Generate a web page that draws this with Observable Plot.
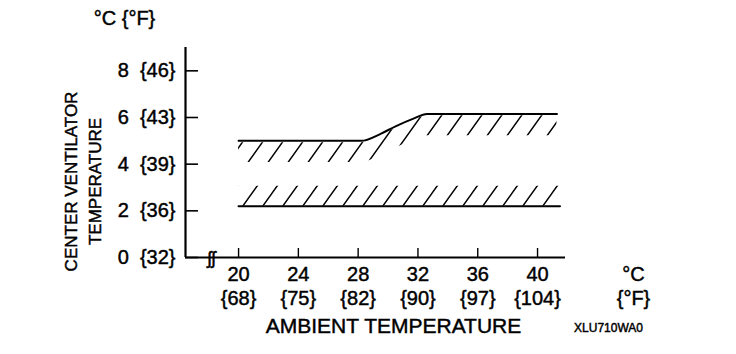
<!DOCTYPE html>
<html>
<head>
<meta charset="utf-8">
<script src="https://cdn.jsdelivr.net/npm/d3@7"></script>
<script src="https://cdn.jsdelivr.net/npm/@observablehq/plot@0.6"></script>
<style>
  html, body { margin: 0; padding: 0; background: #fff; }
  #chart svg { display: block; }
  #chart text { stroke: #000; stroke-width: 0.45px; }
</style>
</head>
<body>
<div id="chart"></div>
<script>
// Ambient temperature ticks (°C) and Fahrenheit equivalents
const xTicks = [20, 24, 28, 32, 36, 40];
const xTicksF = [68, 75, 82, 90, 97, 104];
// Center ventilator temperature ticks (°C) and Fahrenheit equivalents
const yTicks = [0, 2, 4, 6, 8];
const yTicksF = [32, 36, 39, 43, 46];

// Upper limit of the specification band
const upperX = [20, 28.2, 29.5, 30.5, 31.7, 32.6, 41.3];
const upperY = [5.0, 5.0, 5.3, 5.62, 5.95, 6.15, 6.15];
// Lower limit of the specification band
const lowerX = [20, 41.5];
const lowerY = [2.2, 2.2];

const hatchDepth = 0.85;

const xDomain = [16.45, 41.87];
const yDomain = [0, 9];

const upper = upperX.map((x, i) => ({x, y: upperY[i]}));
const lower = lowerX.map((x, i) => ({x, y: lowerY[i]}));

const font = "'Liberation Sans', Arial, Helvetica, sans-serif";

const chart = Plot.plot({
  width: 736,
  height: 354,
  marginLeft: 185,
  marginRight: 171,
  marginTop: 47,
  marginBottom: 97,
  style: {fontFamily: font, fontSize: "20px", color: "#000", background: "#fff"},
  x: {domain: xDomain},
  y: {domain: yDomain},
  marks: [
    // hatched strips
    Plot.areaY(upper, {x: "x", y1: d => d.y - 0.08, y2: d => d.y - hatchDepth - 0.08, curve: "monotone-x", fill: "url(#hatchU)"}),
    Plot.areaY(lower, {x: "x", y1: d => d.y, y2: d => d.y + hatchDepth, fill: "url(#hatchL)"}),
    // limit lines
    Plot.line(upper, {x: "x", y: "y", curve: "monotone-x", stroke: "#000", strokeWidth: 2}),
    Plot.line(lower, {x: "x", y: "y", stroke: "#000", strokeWidth: 2}),
    // axes lines
    Plot.ruleX([xDomain[0]], {y1: yDomain[0], y2: yDomain[1], stroke: "#000", strokeWidth: 2.2}),
    Plot.ruleY([0], {x1: xDomain[0], x2: xDomain[1], stroke: "#000", strokeWidth: 1.8}),
    // axes
    Plot.axisY({ticks: yTicks, tickSize: -13, tickPadding: 23, strokeWidth: 1.6, label: null,
      fontSize: 20, tickFormat: d => `${d}\u2007{${yTicksF[yTicks.indexOf(d)]}}`}),
    Plot.axisX({ticks: xTicks, tickSize: -9, tickPadding: 15, strokeWidth: 1.4, label: null,
      fontSize: 20, lineHeight: 1.2, tickFormat: d => `${d}\n{${xTicksF[xTicks.indexOf(d)]}}`}),
    // axis break
    Plot.text(["ʃʃ"], {frameAnchor: "bottom-left", textAnchor: "middle", lineAnchor: "middle", dx: 26, dy: 1, fontSize: 18, fill: "#000"}),
    // units
    Plot.text(["°C {°F}"], {frameAnchor: "top-left", textAnchor: "middle", lineAnchor: "middle", dx: -61, dy: -29, fontSize: 20, fill: "#000"}),
    Plot.text(["°C\n{°F}"], {frameAnchor: "bottom-left", textAnchor: "middle", dx: 448, dy: 6, lineAnchor: "top", lineHeight: 1.2, fontSize: 20, fill: "#000"}),
    // titles
    Plot.text(["CENTER VENTILATOR\nTEMPERATURE"], {frameAnchor: "top-left", textAnchor: "middle", lineAnchor: "middle", dx: -104.5, dy: 134, rotate: -90, lineHeight: 1.47, fontSize: 17, fill: "#000"}),
    Plot.text(["AMBIENT TEMPERATURE"], {frameAnchor: "bottom-left", textAnchor: "middle", lineAnchor: "middle", dx: 208, dy: 69, fontSize: 21, fill: "#000"}),
    Plot.text(["XLU710WA0"], {frameAnchor: "bottom-left", textAnchor: "middle", lineAnchor: "middle", dx: 423, dy: 71, fontSize: 12, fill: "#000"})
  ]
});

// hatch patterns
const svg = d3.select(chart);
const defs = svg.insert("defs", ":first-child");
function addPattern(id, xOff) {
  const p = defs.append("pattern")
    .attr("id", id)
    .attr("patternUnits", "userSpaceOnUse")
    .attr("x", xOff).attr("y", 0)
    .attr("width", 20).attr("height", 28);
  p.append("path")
    .attr("d", "M0,28L20,0M-5,7L5,-7M15,35L25,21")
    .attr("stroke", "#000").attr("stroke-width", 1.5).attr("fill", "none");
}
addPattern("hatchU", 4);
addPattern("hatchL", 10);

document.getElementById("chart").appendChild(chart);
</script>
</body>
</html>
